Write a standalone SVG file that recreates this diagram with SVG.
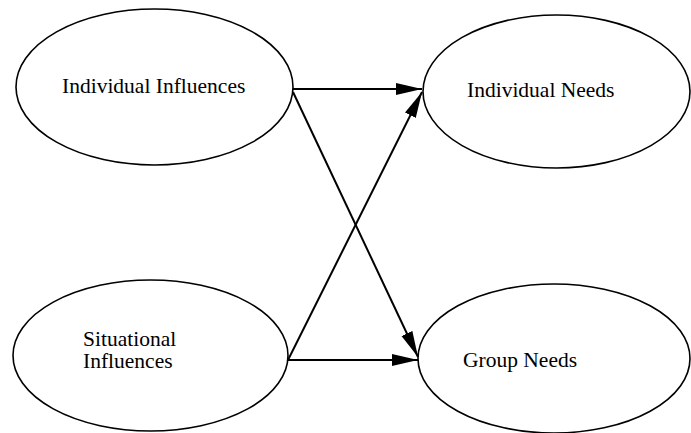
<svg xmlns="http://www.w3.org/2000/svg" width="691" height="433" viewBox="0 0 691 433">
  <defs>
    <style>
      .node ellipse { fill: #ffffff; stroke: #000000; stroke-width: 1.6; }
      .node text { font-family: "Liberation Serif", "Times New Roman", serif; font-size: 21.5px; fill: #000000; }
      .edge { stroke: #000000; stroke-width: 2; fill: none; marker-end: url(#arrow); }
    </style>
    <marker id="arrow" markerUnits="userSpaceOnUse" markerWidth="28" markerHeight="14" refX="26" refY="7" orient="auto">
      <path d="M0,1 L26,7 L0,13 Z" fill="#000000"/>
    </marker>
  </defs>
  <rect width="691" height="433" fill="#ffffff"/>
  <g id="node-individual-influences" class="node">
    <ellipse cx="154.5" cy="87" rx="138.5" ry="78"/>
    <text x="62" y="93">Individual Influences</text>
  </g>
  <g id="node-individual-needs" class="node">
    <ellipse cx="556.5" cy="91.5" rx="133.5" ry="76.5"/>
    <text x="467" y="97">Individual Needs</text>
  </g>
  <g id="node-situational-influences" class="node">
    <ellipse cx="150.5" cy="355.5" rx="137.5" ry="75.5"/>
    <text x="83" y="346">Situational</text>
    <text x="83" y="368">Influences</text>
  </g>
  <g id="node-group-needs" class="node">
    <ellipse cx="554" cy="358.5" rx="136" ry="74.5"/>
    <text x="463" y="367">Group Needs</text>
  </g>
  <g id="connectors">
    <line class="edge" x1="293" y1="89" x2="422" y2="89"/>
    <line class="edge" x1="293" y1="92" x2="418" y2="357"/>
    <line class="edge" x1="288" y1="360" x2="422" y2="92"/>
    <line class="edge" x1="288" y1="360" x2="418" y2="360"/>
  </g>
</svg>
